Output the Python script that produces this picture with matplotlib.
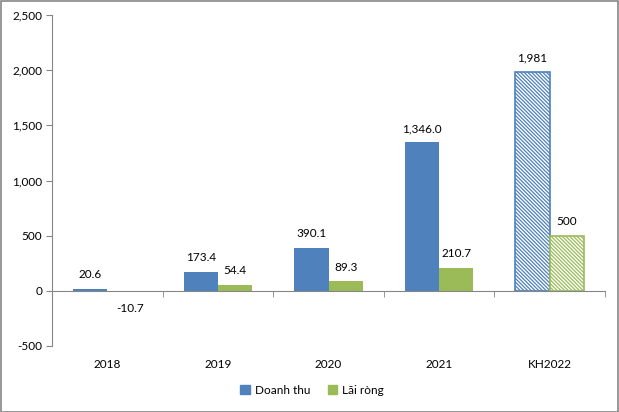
import matplotlib
matplotlib.use("Agg")
import matplotlib.pyplot as plt
from matplotlib.patches import Rectangle, Patch
import numpy as np

categories = ["2018", "2019", "2020", "2021", "KH2022"]
doanh_thu = [20.6, 173.4, 390.1, 1346.0, 1981]
lai_rong = [-10.7, 54.4, 89.3, 210.7, 500]
dt_labels = ["20.6", "173.4", "390.1", "1,346.0", "1,981"]
lr_labels = ["-10.7", "54.4", "89.3", "210.7", "500"]
yticks = [-500, 0, 500, 1000, 1500, 2000, 2500]

BLUE = "#4F81BD"
GREEN = "#9BBB59"
FS = 8.5

plt.rcParams['font.family'] = ['Lato', 'DejaVu Sans']
plt.rcParams['hatch.linewidth'] = 0.9

fig = plt.figure(figsize=(6.19, 4.12), dpi=100)
ax = fig.add_axes([52/619, 1-346/412, (605-52)/619, (346-15)/412])

x = np.arange(len(categories))
w = 0.31
for i in range(len(categories)):
    hatched = (i == len(categories) - 1)
    if hatched:
        ax.bar(x[i] - w/2, doanh_thu[i], w, facecolor="white", edgecolor=BLUE,
               hatch="\\" * 9, linewidth=1.2)
        ax.bar(x[i] + w/2, lai_rong[i], w, facecolor="white", edgecolor=GREEN,
               hatch="\\" * 9, linewidth=1.2)
    else:
        ax.bar(x[i] - w/2, doanh_thu[i], w, color=BLUE)
        ax.bar(x[i] + w/2, lai_rong[i], w, color=GREEN)

for i in range(len(categories)):
    ax.annotate(dt_labels[i], (x[i] - w/2, doanh_thu[i]), xytext=(0, 10),
                textcoords="offset points", ha="center", va="center", fontsize=FS)
    if lai_rong[i] >= 0:
        ax.annotate(lr_labels[i], (x[i] + w/2, lai_rong[i]), xytext=(0, 10),
                    textcoords="offset points", ha="center", va="center", fontsize=FS)
    else:
        ax.annotate(lr_labels[i], (x[i] + w/2, lai_rong[i]), xytext=(4, -12),
                    textcoords="offset points", ha="center", va="center", fontsize=FS)

ax.set_xlim(-0.5, len(categories) - 0.5)
ax.set_ylim(-500, 2500)
ax.set_yticks(yticks)
ax.set_yticklabels([f"{v:,}" for v in yticks], fontsize=FS)
ax.tick_params(axis="y", direction="out", length=4, color="#868686", pad=3)

for s in ["top", "right"]:
    ax.spines[s].set_visible(False)
ax.spines["left"].set_color("#868686")
ax.spines["bottom"].set_position(("data", 0))
ax.spines["bottom"].set_color("#868686")

ax.set_xticks(x)
ax.set_xticklabels(categories, fontsize=FS)
ax.set_xticks(np.arange(len(categories) + 1) - 0.5, minor=True)
ax.tick_params(axis="x", which="major", length=0, pad=49)
ax.tick_params(axis="x", which="minor", length=4, direction="out", color="#868686")

handles = [Patch(color=BLUE, label="Doanh thu"), Patch(color=GREEN, label="Lãi ròng")]
fig.legend(handles=handles, loc="center", bbox_to_anchor=(312/619, 1-390/412), ncol=2,
           frameon=False, fontsize=FS, handlelength=0.8, handleheight=0.8,
           columnspacing=1.5, handletextpad=0.4)

fig.patches.append(Rectangle((0.001, 0.001), 0.997, 0.997, transform=fig.transFigure,
                             fill=False, edgecolor="#868686", linewidth=1.2))

fig.savefig("out.png", dpi=100)
